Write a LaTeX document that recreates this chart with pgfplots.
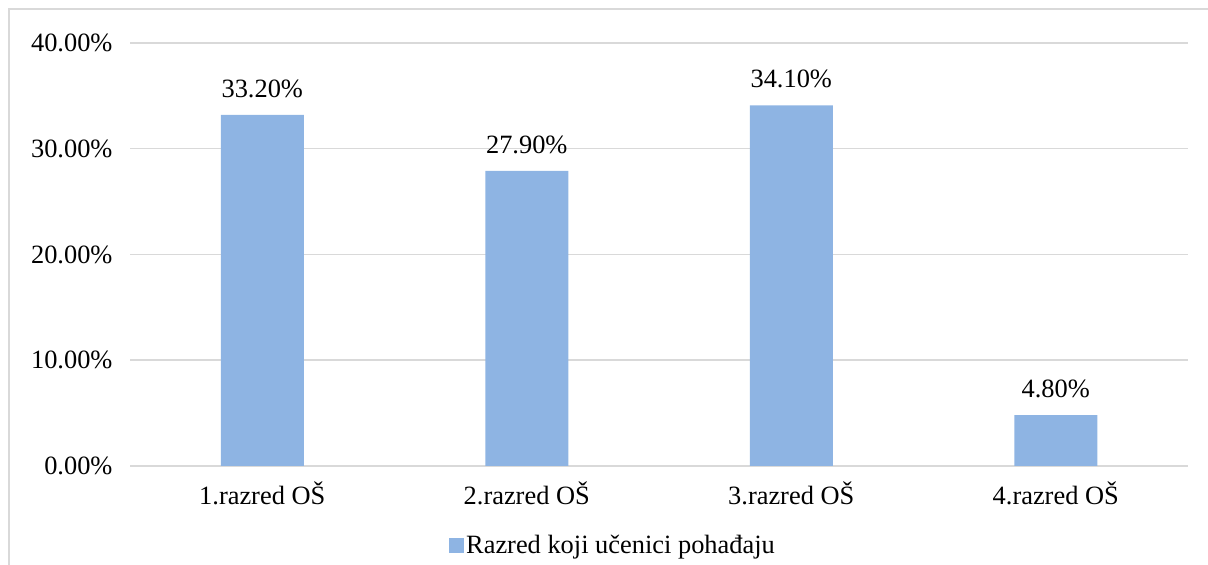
\documentclass[border=0pt]{standalone}
\usepackage{pgfplots}
\pgfplotsset{compat=1.18}
\usepackage{fontspec}
\setmainfont{Liberation Serif}
\definecolor{barblue}{RGB}{142,180,227}
\definecolor{gridgray}{RGB}{217,217,217}
\newcommand{\fs}{\fontsize{26.5}{31}\selectfont}
\begin{document}
\begin{tikzpicture}[x=1bp,y=1bp]
\path[use as bounding box] (0,0) rectangle (1208,565);
\draw[gridgray, line width=2bp] (9,0) -- (9,555.5) -- (1208,555.5);
\begin{axis}[
    at={(130bp,99bp)}, anchor=south west,
    scale only axis,
    width=1058bp, height=423bp,
    xmin=-0.5, xmax=3.5,
    ymin=0, ymax=40,
    ybar, bar width=83bp,
    xtick={0,1,2,3},
    xticklabels={1.razred OŠ,2.razred OŠ,3.razred OŠ,4.razred OŠ},
    ytick={0,10,20,30,40},
    yticklabel={\pgfmathprintnumber[fixed,fixed zerofill,precision=2]{\tick}\%},
    /pgf/number format/assume math mode=true,
    major tick length=0pt,
    axis line style={draw=none},
    ymajorgrids,
    grid style={gridgray, line width=1.5bp},
    every tick label/.append style={font=\fs},
    yticklabel style={xshift=-14bp},
    xticklabel style={yshift=-12bp},
    nodes near coords={\pgfmathprintnumber[fixed,fixed zerofill,precision=2,assume math mode=true]{\pgfplotspointmeta}\%},
    nodes near coords style={font=\fs, yshift=14bp},
    clip=false,
    legend style={at={(0.3015,-0.1868)}, anchor=west, draw=none, font=\fs,
        inner sep=0pt, /tikz/every even column/.append style={column sep=2bp}},
    legend image code/.code={\fill[barblue] (0bp,-7.5bp) rectangle (15bp,7.5bp);},
]
\addplot[fill=barblue, draw=none] coordinates {(0,33.2) (1,27.9) (2,34.1) (3,4.8)};
\addlegendentry{Razred koji učenici pohađaju}
\end{axis}
\end{tikzpicture}
\end{document}
